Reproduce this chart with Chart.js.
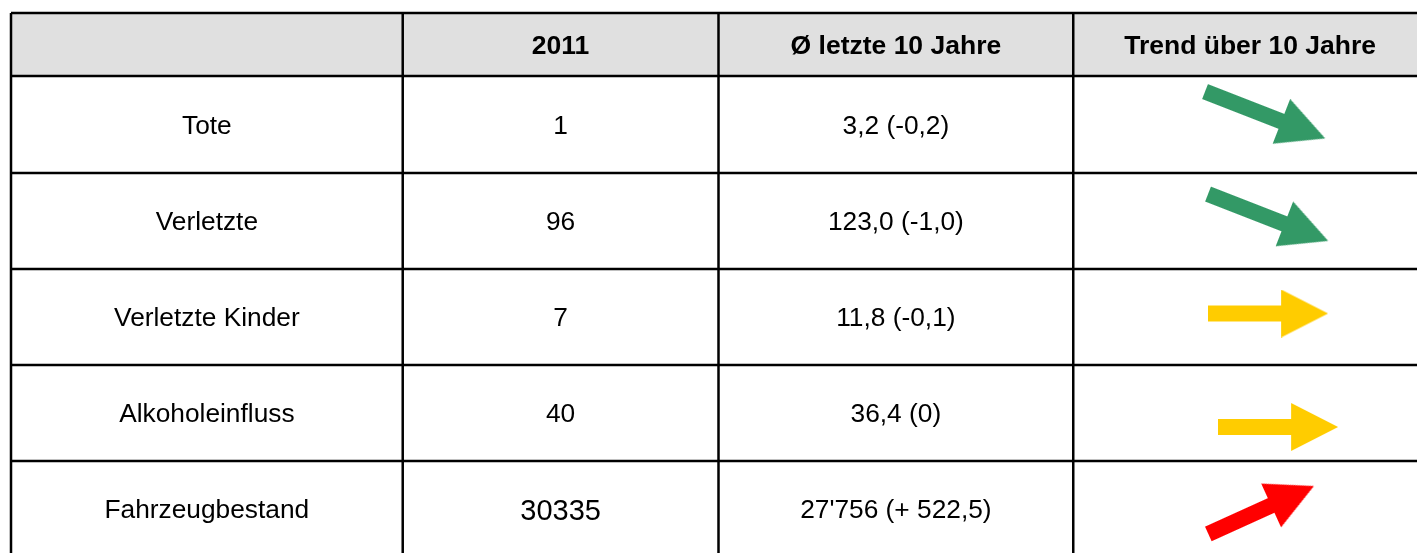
<!DOCTYPE html>
<html lang="de">
<head>
<meta charset="utf-8">
<title>Verkehrsunfälle 2011</title>
<script src="https://cdn.jsdelivr.net/npm/chart.js@4.4.1/dist/chart.umd.min.js"></script>
<style>
  html, body { margin: 0; padding: 0; background: #fff; overflow: hidden; }
  canvas { display: block; }
</style>
</head>
<body>
<canvas id="trendTable" width="1440" height="575"></canvas>
<script>
const headers = ["", "2011", "Ø letzte 10 Jahre", "Trend über 10 Jahre"];
const categories = ["Tote", "Verletzte", "Verletzte Kinder", "Alkoholeinfluss", "Fahrzeugbestand"];
const values2011 = [1, 96, 7, 40, 30335];
const avgLabels = ["3,2 (-0,2)", "123,0 (-1,0)", "11,8 (-0,1)", "36,4 (0)", "27'756 (+ 522,5)"];
const trends = ["down", "down", "flat", "flat", "up"];

// layout (pixel sizes of the table grid)
const colWidths = [392, 316, 355, 354];
const rowHeights = [63, 97, 96, 96, 96, 96];
const arrowNudge = [[15, -9.5], [18, -3.5], [18, -3.5], [28, 14], [11, 1]];
const valueFontSize = [26.3, 26.3, 26.3, 26.3, 29];
const TEXT_DROP = 2;

const arrowStyles = {
  down: { color: "#339966", angle: 21.3, length: 129 },
  flat: { color: "#ffcc00", angle: 0, length: 120 },
  up: { color: "#ff0000", angle: -24.4, length: 116 },
};

const FONT = '"Liberation Sans", Arial, sans-serif';

function edges(sizes) {
  let acc = 0;
  return [0, ...sizes.map((s) => (acc += s))];
}
const colEdges = edges(colWidths);
const rowEdges = edges(rowHeights);
const colCenter = (i) => (colEdges[i] + colEdges[i + 1]) / 2;
const rowCenter = (i) => (rowEdges[i] + rowEdges[i + 1]) / 2;

function makeArrow(style) {
  const head = 47;
  const shaft = 16;
  const c = document.createElement("canvas");
  c.width = style.length;
  c.height = head + 1;
  const ctx = c.getContext("2d");
  const mid = c.height / 2;
  const neck = style.length - head;
  ctx.fillStyle = style.color;
  ctx.beginPath();
  ctx.moveTo(0, mid - shaft / 2);
  ctx.lineTo(neck, mid - shaft / 2);
  ctx.lineTo(neck, 0);
  ctx.lineTo(style.length, mid);
  ctx.lineTo(neck, c.height);
  ctx.lineTo(neck, mid + shaft / 2);
  ctx.lineTo(0, mid + shaft / 2);
  ctx.closePath();
  ctx.fill();
  return c;
}

const arrowImages = {};
Object.keys(arrowStyles).forEach((k) => (arrowImages[k] = makeArrow(arrowStyles[k])));

const tablePlugin = {
  id: "table",
  beforeDatasetsDraw(chart) {
    const { ctx } = chart;
    const x = chart.scales.x;
    const y = chart.scales.y;
    const px = (v) => x.getPixelForValue(v);
    const py = (v) => y.getPixelForValue(v);
    const left = px(0);
    const right = px(colEdges[colEdges.length - 1]);
    const top = py(0);
    const bottom = py(rowEdges[rowEdges.length - 1]);

    ctx.save();
    ctx.fillStyle = "#e0e0e0";
    ctx.fillRect(left, top, right - left, py(rowEdges[1]) - top);

    ctx.strokeStyle = "#000";
    ctx.lineWidth = 2.5;
    ctx.beginPath();
    rowEdges.forEach((r) => {
      ctx.moveTo(left, py(r));
      ctx.lineTo(right, py(r));
    });
    colEdges.forEach((c) => {
      ctx.moveTo(px(c), top);
      ctx.lineTo(px(c), bottom);
    });
    ctx.stroke();

    ctx.fillStyle = "#000";
    ctx.textAlign = "center";
    ctx.textBaseline = "middle";

    ctx.font = "bold 26.5px " + FONT;
    headers.forEach((h, i) => ctx.fillText(h, px(colCenter(i)), py(rowCenter(0)) + TEXT_DROP));

    categories.forEach((cat, r) => {
      const cy = py(rowCenter(r + 1)) + TEXT_DROP;
      ctx.font = "26.3px " + FONT;
      ctx.fillText(cat, px(colCenter(0)), cy);
      ctx.fillText(avgLabels[r], px(colCenter(2)), cy);
      ctx.font = valueFontSize[r] + "px " + FONT;
      ctx.fillText(String(values2011[r]), px(colCenter(1)), cy + (valueFontSize[r] - 26.3) * 0.5);
    });
    ctx.restore();
  },
};

const ctx = document.getElementById("trendTable").getContext("2d");
const chart = new Chart(ctx, {
  type: "scatter",
  data: {
    datasets: [
      {
        label: "Trend über 10 Jahre",
        data: categories.map((c, i) => ({
          x: colCenter(3) + arrowNudge[i][0],
          y: rowCenter(i + 1) + arrowNudge[i][1],
        })),
        pointStyle: trends.map((t) => arrowImages[t]),
        rotation: trends.map((t) => arrowStyles[t].angle),
        pointRadius: 10,
        showLine: false,
      },
    ],
  },
  options: {
    responsive: false,
    animation: false,
    events: [],
    layout: { padding: { left: 10, top: 13, right: 13, bottom: 18 } },
    scales: {
      x: { type: "linear", display: false, min: 0, max: colEdges[colEdges.length - 1] },
      y: { type: "linear", display: false, reverse: true, min: 0, max: rowEdges[rowEdges.length - 1] },
    },
    plugins: {
      legend: { display: false },
      tooltip: { enabled: false },
    },
  },
  plugins: [tablePlugin],
});
</script>
</body>
</html>
